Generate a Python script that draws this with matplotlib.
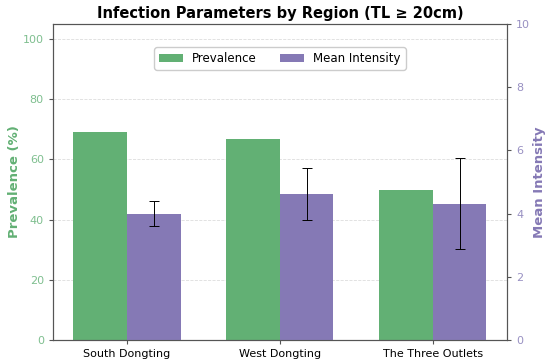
import numpy as np
import matplotlib.pyplot as plt

regions = ['South Dongting', 'West Dongting', 'The Three Outlets']
prevalence = [69.0, 66.7, 50.0]
intensity = [4.0, 4.63, 4.32]
intensity_err = [0.4, 0.83, 1.45]

green = '#62b074'
purple = '#8579b5'

fig = plt.figure(figsize=(5.5, 3.63), dpi=100)
ax = fig.add_axes([0.096, 0.063, 0.826, 0.871])
ax2 = ax.twinx()

x = np.arange(len(regions))
w = 0.35

b1 = ax.bar(x - w / 2, prevalence, w, color=green, label='Prevalence', zorder=2)
b2 = ax2.bar(x + w / 2, intensity, w, color=purple, label='Mean Intensity',
             yerr=intensity_err, capsize=3.5,
             error_kw=dict(ecolor='black', elinewidth=0.7, capthick=0.7), zorder=2)

ax.set_ylim(0, 105)
ax2.set_ylim(0, 10)
ax.set_yticks([0, 20, 40, 60, 80, 100])
ax2.set_yticks([0, 2, 4, 6, 8, 10])
ax.set_xticks(x)
ax.set_xticklabels(regions, fontsize=8)

ax.set_ylabel('Prevalence (%)', color=green, fontsize=9.5, fontweight='bold', labelpad=1)
ax2.set_ylabel('Mean Intensity', color=purple, fontsize=9.5, fontweight='bold', labelpad=2)
ax.tick_params(axis='y', labelcolor='#7fbf8f', labelsize=8, color='#555555', length=3)
ax2.tick_params(axis='y', labelcolor='#9890c2', labelsize=8, color='#555555', length=3)
ax.tick_params(axis='x', color='#555555', length=3)

for a in (ax, ax2):
    for s in a.spines.values():
        s.set_color('#555555')

ax.grid(axis='y', linestyle='--', color='#dddddd', linewidth=0.6, zorder=0)
ax.set_axisbelow(True)

ax.set_title('Infection Parameters by Region (TL \u2265 20cm)', fontsize=10.5,
             fontweight='bold', pad=4)

ax.legend([b1, b2], ['Prevalence', 'Mean Intensity'], loc='upper center',
          bbox_to_anchor=(0.5, 0.945), ncol=2, fontsize=8.5, framealpha=1,
          edgecolor='#cccccc')

fig.savefig('out.png', dpi=100)
